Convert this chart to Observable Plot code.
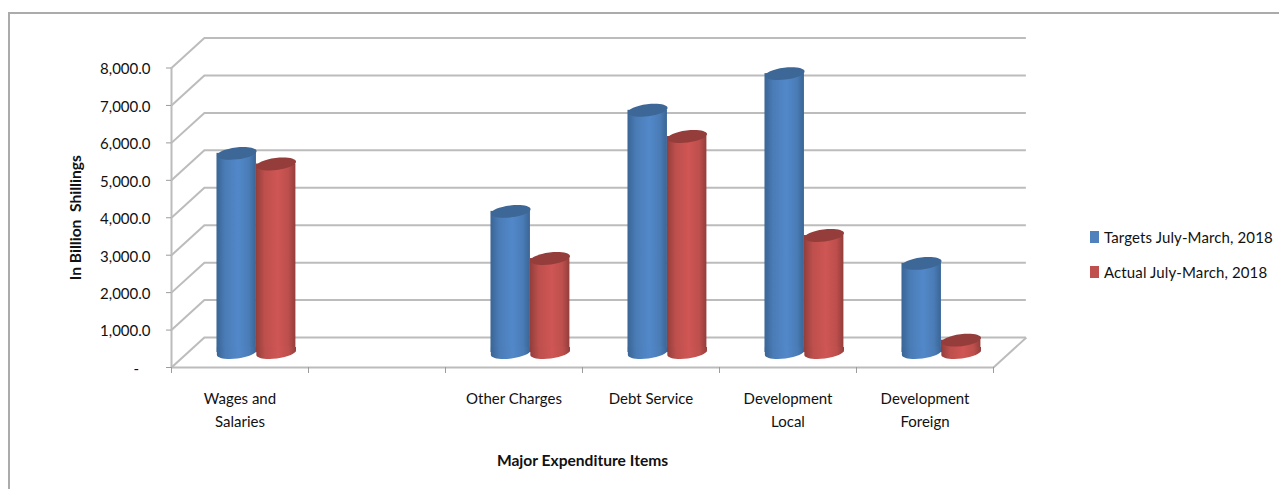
<!DOCTYPE html>
<html>
<head>
<meta charset="utf-8">
<script src="https://cdn.jsdelivr.net/npm/d3@7"></script>
<script src="https://cdn.jsdelivr.net/npm/@observablehq/plot@0.6"></script>
<style>
  html, body { margin: 0; padding: 0; background: #fff; overflow: hidden; }
  #page { position: relative; width: 1279px; height: 489px; overflow: hidden; font-family: Lato, sans-serif; color: #111; }
  #border { position: absolute; left: 8px; top: 12px; width: 1290px; height: 500px; border: 2px solid #ababab; }
  #chart { position: absolute; left: 0; top: 0; }
  .key { position: absolute; left: 1090px; display: flex; align-items: center; font-size: 15px; letter-spacing: 0.12px; white-space: nowrap; }
  .key i { display: block; width: 9px; height: 12px; margin-right: 5px; }
</style>
</head>
<body>
<div id="page">
  <div id="border"></div>
  <div id="chart"></div>
</div>
<script>
// Budget execution by expenditure item; the empty slot keeps the gap after the first group.
const categories = ["Wages and\nSalaries", "", "Other Charges", "Debt Service", "Development\nLocal", "Development\nForeign"];
const targets = [5320, null, 3770, 6470, 7450, 2380];
const actuals = [5035, null, 2510, 5770, 3125, 330];
const seriesNames = ["Targets July-March, 2018", "Actual July-March, 2018"];
const seriesColors = ["#4f81bd", "#c0504d"];
const yTicks = [0, 1000, 2000, 3000, 4000, 5000, 6000, 7000, 8000];
const xTicks = [0, 1, 2, 3, 4, 5, 6];

// Oblique depth of the 3-D box, in x slots and in axis units.
const depthX = 0.24;
const depthY = 800;
const barWidth = 0.288;

const gridColor = "#bcbcbc";
const axisColor = "#9c9c9c";

const rows = (values, side) => values
  .map((value, i) => ({value, slot: i, side}))
  .filter((d) => d.value != null);
const targetRows = rows(targets, -1);
const actualRows = rows(actuals, 1);

// Slanted ellipse used for the cap of each cylinder; the foot adds a short
// collar above it so the sides of the body run cleanly into the curve.
const tilt = -7 * Math.PI / 180;
const ellipsePath = (context, rx) => {
  const ry = rx * 0.3, k = 0.5523;
  const pt = (a, b) => [a * Math.cos(tilt) - b * Math.sin(tilt), a * Math.sin(tilt) + b * Math.cos(tilt)];
  const curve = (a, b, c) => context.bezierCurveTo(...pt(...a), ...pt(...b), ...pt(...c));
  context.moveTo(...pt(rx, 0));
  curve([rx, k * ry], [k * rx, ry], [0, ry]);
  curve([-k * rx, ry], [-rx, k * ry], [-rx, 0]);
  curve([-rx, -k * ry], [-k * rx, -ry], [0, -ry]);
  curve([k * rx, -ry], [rx, -k * ry], [rx, 0]);
  context.closePath();
};
const cap = {
  draw(context, size) {
    ellipsePath(context, Math.sqrt(size / Math.PI));
  }
};
const foot = {
  draw(context, size) {
    const rx = Math.sqrt(size / Math.PI);
    ellipsePath(context, rx);
    const w = rx * Math.cos(tilt), s = rx * Math.sin(tilt);
    // Same winding as the ellipse, so the overlap stays filled.
    context.moveTo(-w, -s);
    context.lineTo(-w, s - 3);
    context.lineTo(w, s - 3);
    context.lineTo(w, s);
    context.closePath();
  }
};

const gradients = () => {
  const defs = d3.create("svg:defs");
  const stops = {
    blueShade: ["#3a6596", "#4a7cb6", "#5288ca", "#4a7cb6", "#3a6596"],
    redShade: ["#933e3c", "#bd4f4c", "#cf5654", "#bd4f4c", "#933e3c"]
  };
  for (const [id, colors] of Object.entries(stops)) {
    const g = defs.append("linearGradient").attr("id", id);
    colors.forEach((c, i) => g.append("stop").attr("offset", [0, 0.22, 0.55, 0.82, 1][i]).attr("stop-color", c));
  }
  return defs.node();
};

const cylinder = (data, shade, capColor) => {
  const center = (d) => d.slot + 0.5 + d.side * barWidth / 2 + depthX / 2;
  return [
    Plot.rectY(data, {
      x1: (d) => center(d) - barWidth / 2,
      x2: (d) => center(d) + barWidth / 2,
      y1: depthY / 2,
      y2: (d) => d.value + depthY / 2,
      fill: shade
    }),
    Plot.dot(data, {x: center, y: depthY / 2, r: 20, symbol: foot, fill: shade}),
    Plot.dot(data, {x: center, y: (d) => d.value + depthY / 2, r: 20, symbol: cap, fill: capColor})
  ];
};

const chart = Plot.plot({
  width: 1279,
  height: 489,
  marginLeft: 171,
  marginRight: 286,
  marginTop: 67.5,
  marginBottom: 122,
  style: {fontFamily: "Lato, sans-serif", fontSize: "15px", color: "#111", background: "transparent"},
  x: {type: "linear", domain: [0, 6], label: null},
  y: {type: "linear", domain: [0, 8000], label: null},
  marks: [
    gradients,
    // Back wall and floor
    Plot.ruleY(yTicks, {y: (d) => d + depthY, x1: depthX, x2: 6 + depthX, stroke: gridColor, strokeWidth: 2}),
    Plot.link(yTicks, {x1: 0, y1: (d) => d, x2: depthX, y2: (d) => d + depthY, stroke: gridColor, strokeWidth: 2}),
    Plot.link([0], {x1: 6, y1: 0, x2: 6 + depthX, y2: depthY, stroke: gridColor, strokeWidth: 2}),
    Plot.ruleY([0], {x1: 0, x2: 6, stroke: gridColor, strokeWidth: 2}),
    Plot.ruleX([0], {y1: 0, y2: 8000, stroke: gridColor, strokeWidth: 2}),
    // Axes: tick marks, then labels nudged onto the tick lines
    Plot.axisY({ticks: yTicks, tickSize: 5, stroke: axisColor, text: null, label: null}),
    Plot.text(yTicks, {
      x: 0,
      y: (d) => d,
      dx: -21,
      dy: 1.5,
      textAnchor: "end",
      fontSize: 15,
      fill: "#111",
      text: (d) => d === 0 ? "-\u00a0\u00a0\u00a0" : d3.format(",.1f")(d)
    }),
    Plot.axisX({ticks: xTicks, tickSize: 6, stroke: axisColor, text: null, label: null}),
    // Cylinders
    ...cylinder(targetRows, "url(#blueShade)", "#3c6797"),
    ...cylinder(actualRows, "url(#redShade)", "#953d3b"),
    // Category labels and axis titles
    Plot.text(categories, {
      x: (d, i) => i + 0.5,
      y: 0,
      dy: 20,
      lineAnchor: "top",
      lineHeight: 1.53,
      fontSize: 15,
      fill: "#111"
    }),
    Plot.text(["Major Expenditure Items"], {
      frameAnchor: "bottom",
      lineAnchor: "middle",
      dy: 93,
      fontWeight: "bold",
      fontSize: 15.6,
      fill: "#111"
    }),
    Plot.text(["In Billion  Shillings"], {
      frameAnchor: "left",
      textAnchor: "middle",
      rotate: -90,
      dx: -96,
      fontWeight: "bold",
      fontSize: 15.6,
      fill: "#111"
    })
  ]
});
document.getElementById("chart").append(chart);

// Series key beside the plot
const page = document.getElementById("page");
seriesNames.forEach((name, i) => {
  const key = document.createElement("div");
  key.className = "key";
  key.style.top = [228, 263][i] + "px";
  const swatch = document.createElement("i");
  swatch.style.background = seriesColors[i];
  key.append(swatch, name);
  page.append(key);
});
</script>
</body>
</html>
